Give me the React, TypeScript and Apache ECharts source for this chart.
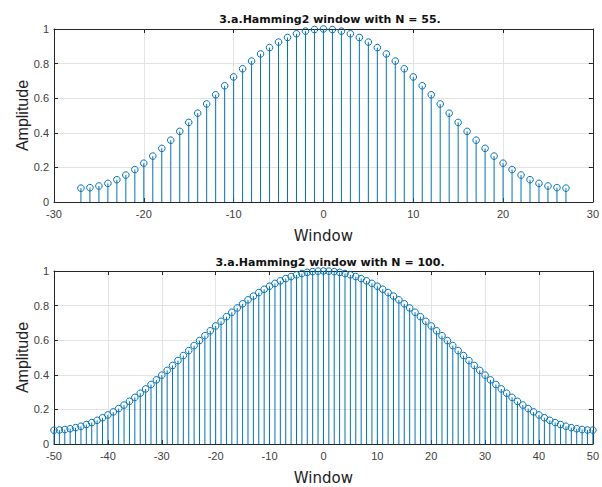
import React, { useEffect, useRef } from "react";
import * as echarts from "echarts";

const n55 = [-27, -26, -25, -24, -23, -22, -21, -20, -19, -18, -17, -16, -15, -14, -13, -12, -11, -10, -9, -8, -7, -6, -5, -4, -3, -2, -1, 0, 1, 2, 3, 4, 5, 6, 7, 8, 9, 10, 11, 12, 13, 14, 15, 16, 17, 18, 19, 20, 21, 22, 23, 24, 25, 26, 27];
const w55 = [0.08, 0.0831, 0.0924, 0.1077, 0.1289, 0.1557, 0.1876, 0.2243, 0.2653, 0.31, 0.3573, 0.4081, 0.4601, 0.5133, 0.5667, 0.6199, 0.6719, 0.7227, 0.77, 0.8147, 0.8557, 0.8924, 0.9243, 0.9511, 0.9723, 0.9876, 0.9969, 1, 0.9969, 0.9876, 0.9723, 0.9511, 0.9243, 0.8924, 0.8557, 0.8147, 0.77, 0.7227, 0.6719, 0.6199, 0.5667, 0.5133, 0.4601, 0.4081, 0.3573, 0.31, 0.2653, 0.2243, 0.1876, 0.1557, 0.1289, 0.1077, 0.0924, 0.0831, 0.08];

const n100 = [-50, -49, -48, -47, -46, -45, -44, -43, -42, -41, -40, -39, -38, -37, -36, -35, -34, -33, -32, -31, -30, -29, -28, -27, -26, -25, -24, -23, -22, -21, -20, -19, -18, -17, -16, -15, -14, -13, -12, -11, -10, -9, -8, -7, -6, -5, -4, -3, -2, -1, 0, 1, 2, 3, 4, 5, 6, 7, 8, 9, 10, 11, 12, 13, 14, 15, 16, 17, 18, 19, 20, 21, 22, 23, 24, 25, 26, 27, 28, 29, 30, 31, 32, 33, 34, 35, 36, 37, 38, 39, 40, 41, 42, 43, 44, 45, 46, 47, 48, 49, 50];
const w100 = [
  0.08, 0.0809, 0.0836, 0.0882, 0.0945, 0.1025, 0.1123, 0.1238, 0.1369, 0.1516,
  0.1679, 0.1856, 0.2047, 0.2251, 0.2468, 0.2696, 0.2935, 0.3184, 0.3441, 0.3707,
  0.3979, 0.4256, 0.4538, 0.4824, 0.5111, 0.54, 0.5689, 0.5977, 0.6262, 0.6544,
  0.6822, 0.7093, 0.7359, 0.7616, 0.7865, 0.8104, 0.8332, 0.8549, 0.8753, 0.8944,
  0.9122, 0.9284, 0.9431, 0.9562, 0.9677, 0.9775, 0.9856, 0.9919, 0.9964, 0.9991,
  1,
  0.9991, 0.9964, 0.9919, 0.9856, 0.9775, 0.9677, 0.9562, 0.9431, 0.9284, 0.9122,
  0.8944, 0.8753, 0.8549, 0.8332, 0.8104, 0.7865, 0.7616, 0.7359, 0.7093, 0.6822,
  0.6544, 0.6262, 0.5977, 0.5689, 0.54, 0.5111, 0.4824, 0.4538, 0.4256, 0.3979,
  0.3707, 0.3441, 0.3184, 0.2935, 0.2696, 0.2468, 0.2251, 0.2047, 0.1856, 0.1679,
  0.1516, 0.1369, 0.1238, 0.1123, 0.1025, 0.0945, 0.0882, 0.0836, 0.0809, 0.08,
];

const title55 = "3.a.Hamming2 window with N = 55.";
const title100 = "3.a.Hamming2 window with N = 100.";
const xLabel = "Window";
const yLabel = "Amplitude";

const BLUE = "#0072BD";
const TICK_COLOR = "#404040";
const BOX = "#262626";
const TITLE_FONT = "'DejaVu Sans', sans-serif";
const TICK_FONT = "'Liberation Sans', Arial, sans-serif";

const stemRender = (params: any, api: any) => {
  const x = api.value(0);
  const y = api.value(1);
  const top = api.coord([x, y]);
  const base = api.coord([x, 0]);
  return {
    type: "group",
    children: [
      { type: "line", shape: { x1: base[0], y1: base[1], x2: top[0], y2: top[1] }, style: { stroke: BLUE, lineWidth: 1 } },
      { type: "circle", shape: { cx: top[0], cy: top[1], r: 3.3 }, style: { fill: "none", stroke: BLUE, lineWidth: 1 } },
    ],
  };
};

function bottomX(gridIndex: number, min: number, max: number) {
  return {
    type: "value", gridIndex, min, max, interval: 10, position: "bottom",
    name: xLabel, nameLocation: "middle", nameGap: 26, nameMoveOverlap: false,
    nameTextStyle: { fontFamily: TITLE_FONT, fontSize: 15, color: "#222" },
    axisLine: { show: true, onZero: false, lineStyle: { color: BOX, width: 1 } },
    axisTick: { show: true, inside: true, length: 4, lineStyle: { color: BOX } },
    axisLabel: { fontFamily: TICK_FONT, fontSize: 11, color: TICK_COLOR, margin: 6 },
    splitLine: { show: true, lineStyle: { color: "#e3e3e3", width: 1 } },
  };
}
function topX(gridIndex: number, min: number, max: number) {
  return {
    type: "value", gridIndex, min, max, interval: 10, position: "top",
    axisLine: { show: true, onZero: false, lineStyle: { color: BOX, width: 1 } },
    axisTick: { show: true, inside: true, length: 4, lineStyle: { color: BOX } },
    axisLabel: { show: false },
    splitLine: { show: false },
  };
}
function leftY(gridIndex: number) {
  return {
    type: "value", gridIndex, min: 0, max: 1, interval: 0.2, position: "left",
    name: yLabel, nameLocation: "middle", nameGap: 24, nameMoveOverlap: false,
    nameTextStyle: { fontFamily: TICK_FONT, fontSize: 16, color: "#222" },
    axisLine: { show: true, onZero: false, lineStyle: { color: BOX, width: 1 } },
    axisTick: { show: true, inside: true, length: 4, lineStyle: { color: BOX } },
    axisLabel: { fontFamily: TICK_FONT, fontSize: 11, color: TICK_COLOR, margin: 5, formatter: (v: number) => String(Math.round(v * 10) / 10) },
    splitLine: { show: true, lineStyle: { color: "#e3e3e3", width: 1 } },
  };
}
function rightY(gridIndex: number) {
  return {
    type: "value", gridIndex, min: 0, max: 1, interval: 0.2, position: "right",
    axisLine: { show: true, onZero: false, lineStyle: { color: BOX, width: 1 } },
    axisTick: { show: true, inside: true, length: 4, lineStyle: { color: BOX } },
    axisLabel: { show: false },
    splitLine: { show: false },
  };
}

export default function App() {
  const ref = useRef<HTMLDivElement>(null);
  useEffect(() => {
    document.body.style.margin = "0";
    if (!ref.current) return;
    const chart = echarts.init(ref.current, null, { renderer: "svg" });
    chart.setOption({
      animation: false,
      backgroundColor: "#ffffff",
      title: [
        { text: title55, left: 325, top: 9, textAlign: "center", textStyle: { fontFamily: TITLE_FONT, fontSize: 11, fontWeight: "bold", color: "#111" } },
        { text: title100, left: 325, top: 252, textAlign: "center", textStyle: { fontFamily: TITLE_FONT, fontSize: 11, fontWeight: "bold", color: "#111" } },
      ],
      grid: [
        { left: 54, right: 5, top: 29, height: 173 },
        { left: 54, right: 5, top: 271, height: 173 },
      ],
      xAxis: [bottomX(0, -30, 30), topX(0, -30, 30), bottomX(1, -50, 50), topX(1, -50, 50)],
      yAxis: [leftY(0), rightY(0), leftY(1), rightY(1)],
      series: [
        { type: "custom", xAxisIndex: 0, yAxisIndex: 0, clip: false, renderItem: stemRender, data: n55.map((x, i) => [x, w55[i]]) },
        { type: "custom", xAxisIndex: 2, yAxisIndex: 2, clip: false, renderItem: stemRender, data: n100.map((x, i) => [x, w100[i]]) },
      ],
    });
    return () => chart.dispose();
  }, []);
  return <div ref={ref} style={{ width: 602, height: 487 }} />;
}
